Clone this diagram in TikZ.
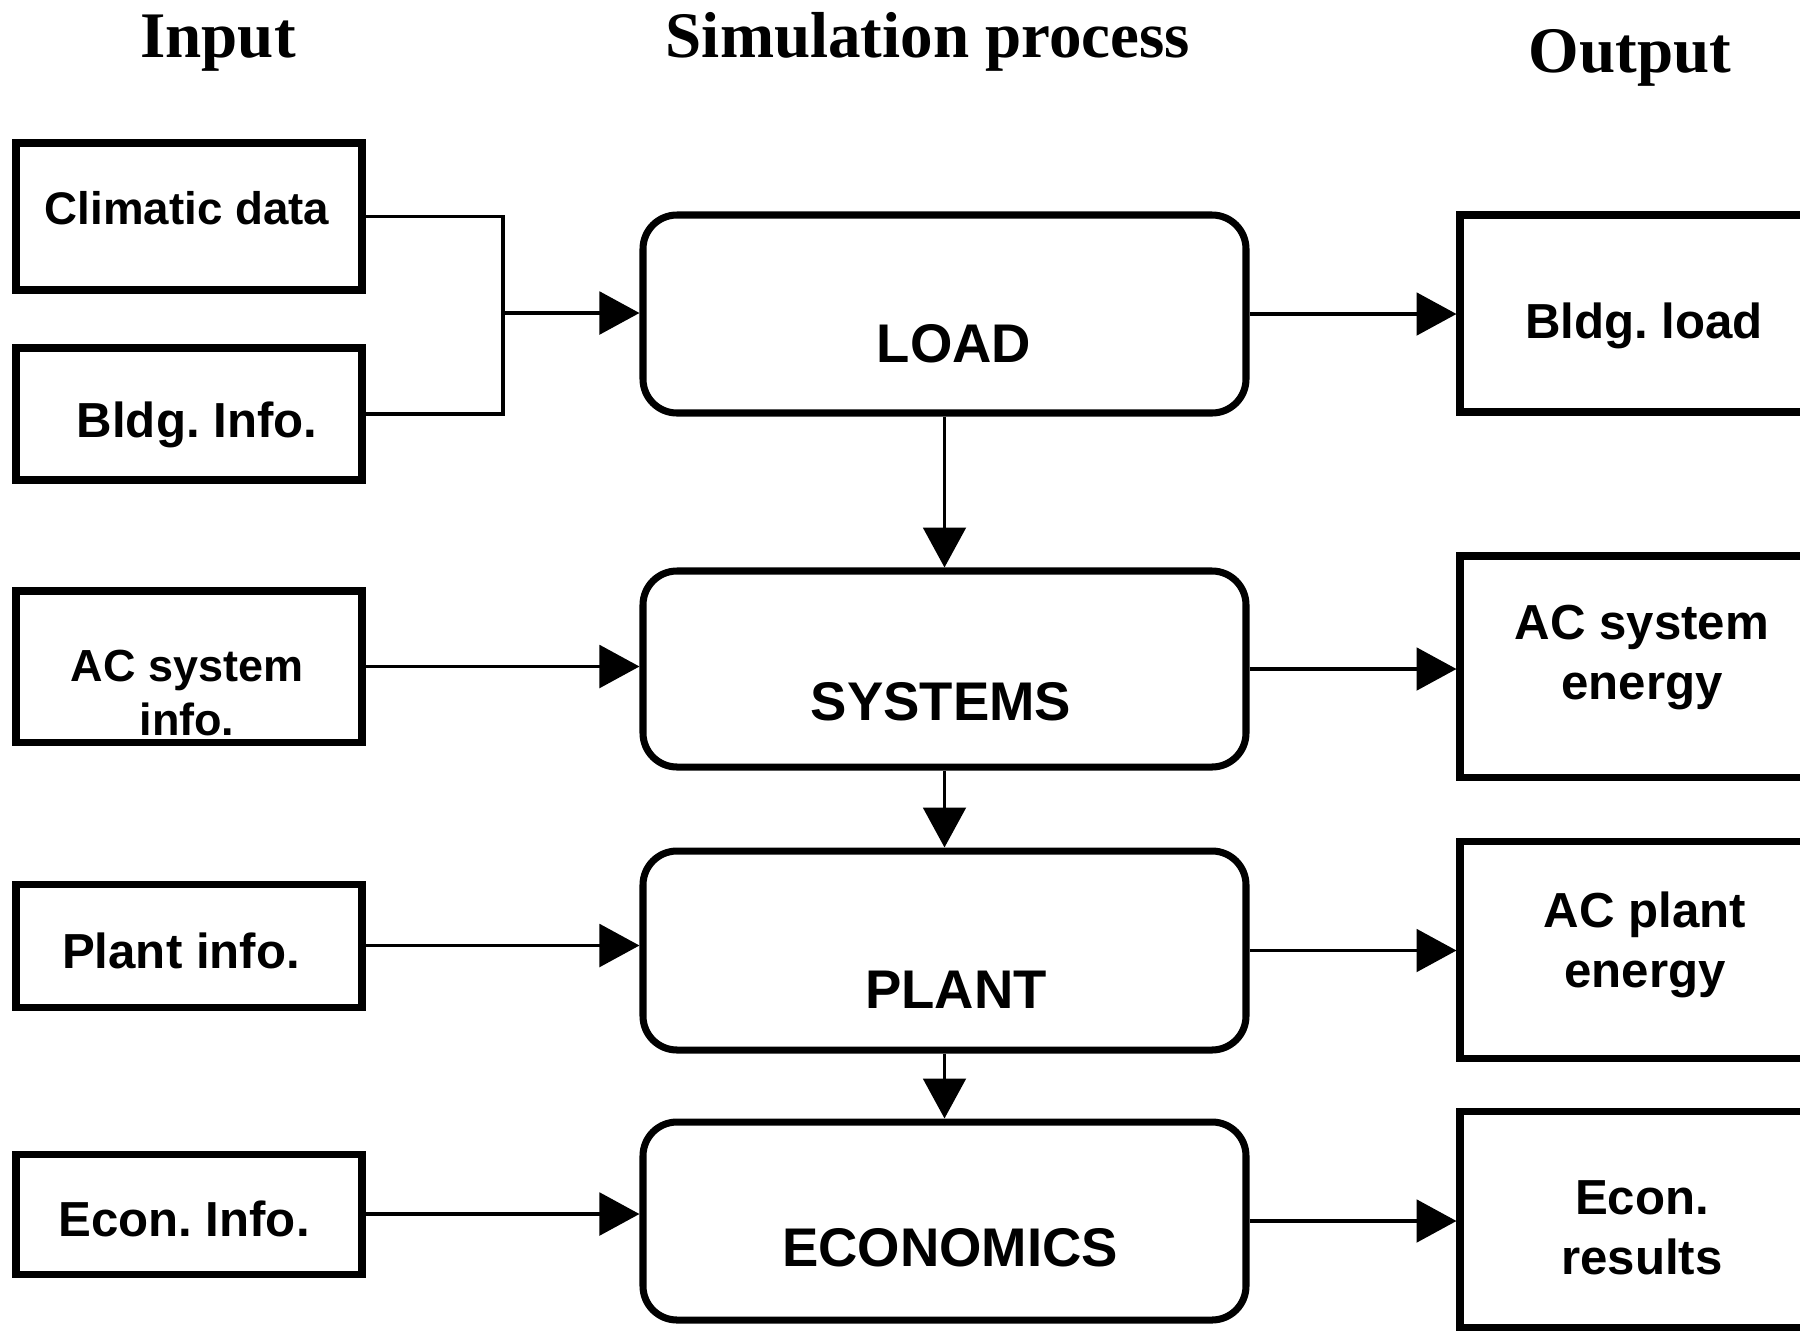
\documentclass[tikz,border=0pt]{standalone}
\usepackage{fontspec}
\setmainfont{Liberation Serif}
\setsansfont{Liberation Sans}
\usetikzlibrary{arrows.meta,fit}
\newcommand\fsz[1]{\fontsize{#1}{\fpeval{1.2*#1}}\selectfont\frenchspacing}
\begin{document}
\begin{tikzpicture}[x=0.02cm,y=-0.02cm,
  sqbox/.style={draw, line width=4pt, inner sep=0pt, rectangle},
  procbox/.style={draw, line width=4pt, inner sep=0pt, rounded corners=0.68cm},
  lbl/.style={font=\sffamily\bfseries\fsz{#1}, align=center, anchor=base, inner sep=0pt},
  ttl/.style={font=\rmfamily\bfseries\fsz{37}, anchor=base, inner sep=0pt},
  conn/.style={line width=2.2pt},
  arr/.style={conn, -{Triangle[length=0.8cm,width=0.85cm]}}]
\useasboundingbox[fill=white] (0,0) rectangle (1800,1330);

% titles
\node[ttl] (tin) at (218,57) {Input};
\node[ttl] (tsim) at (928,57) {Simulation process};
\node[ttl] (tout) at (1630,72) {Output};

% input boxes
\node[sqbox, fit={(16,143) (362,290)}] (clim) {};
\node[sqbox, fit={(16,348) (362,480)}] (bldg) {};
\node[sqbox, fit={(16,591) (362,742)}] (acsi) {};
\node[sqbox, fit={(16,884) (362,1007)}] (plin) {};
\node[sqbox, fit={(16,1154) (362,1274)}] (ecin) {};

% process boxes
\node[procbox, fit={(643,215) (1246,413)}] (load) {};
\node[procbox, fit={(643,571) (1246,767)}] (sys) {};
\node[procbox, fit={(643,851) (1246,1050)}] (plant) {};
\node[procbox, fit={(643,1122) (1246,1320)}] (econ) {};

% output boxes
\node[sqbox, fit={(1460,215) (1803,412)}] (bload) {};
\node[sqbox, fit={(1460,556) (1803,777)}] (acse) {};
\node[sqbox, fit={(1460,841) (1803,1058)}] (acpe) {};
\node[sqbox, fit={(1460,1111) (1803,1327)}] (ecres) {};

% labels (anchor = baseline of last line)
\node[lbl=26] (climT) at (187,224) {Climatic data};
\node[lbl=28] (bldgT) at (197,437) {Bldg. Info.};
\node[lbl=25.6] (acsiT) at (187,735) {AC system\\info.};
\node[lbl=28] (plinT) at (181,968) {Plant info.};
\node[lbl=28] (ecinT) at (184,1236) {Econ. Info.};

\node[lbl=31] (loadT) at (954,362) {LOAD};
\node[lbl=31] (sysT) at (941,720) {SYSTEMS};
\node[lbl=31] (plantT) at (956,1008) {PLANT};
\node[lbl=31] (econT) at (950,1266) {ECONOMICS};

\node[lbl=28] (bloadT) at (1644,338) {Bldg. load};
\node[lbl=28] (acseT) at (1642,699) {AC system\\energy};
\node[lbl=28] (acpeT) at (1645,987) {AC plant\\energy};
\node[lbl=28] (ecresT) at (1642,1274) {Econ.\\results};

% connectors
\coordinate (jn) at (503,313);
\draw[conn] (clim.east) -| (jn);
\draw[conn] (bldg.east) -| (jn);
\draw[arr] (jn) -- (jn -| load.west);
\draw[arr] (load.east) -- (load.east -| bload.west);
\draw[arr] (load.south) -- (sys.north);
\draw[arr] (acsi.east) -- (acsi.east -| sys.west);
\draw[arr] (sys.east) -- (sys.east -| acse.west);
\draw[arr] (sys.south) -- (plant.north);
\draw[arr] (plin.east) -- (plin.east -| plant.west);
\draw[arr] (plant.east) -- (plant.east -| acpe.west);
\draw[arr] (plant.south) -- (econ.north);
\draw[arr] (ecin.east) -- (ecin.east -| econ.west);
\draw[arr] (econ.east) -- (econ.east -| ecres.west);
\end{tikzpicture}
\end{document}
